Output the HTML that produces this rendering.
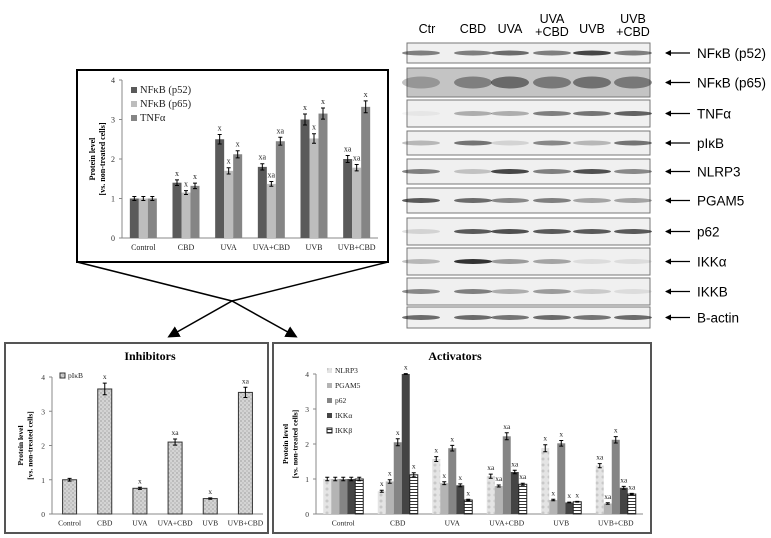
<!DOCTYPE html>
<html><head><meta charset="utf-8"><style>
body{margin:0;background:#fff;}
svg{display:block;font-family:"Liberation Serif",serif;}
.blbl{font-family:"Liberation Sans",sans-serif;}
</style></head><body>
<svg id="fig" width="771" height="538" viewBox="0 0 771 538">
<defs>
<pattern id="dots" width="4" height="4" patternUnits="userSpaceOnUse"><rect width="4" height="4" fill="#d4d4d4"/><rect width="2" height="2" fill="#bbb"/><rect x="2" y="2" width="2" height="2" fill="#c4c4c4"/></pattern>
<pattern id="dots2" width="6" height="6" patternUnits="userSpaceOnUse"><rect width="6" height="6" fill="#e4e4e4"/><circle cx="3" cy="3" r="1.5" fill="#c8c8c8"/></pattern>
<pattern id="hstripe" width="4" height="3" patternUnits="userSpaceOnUse"><rect width="4" height="3" fill="#fff"/><rect width="4" height="1" fill="#333"/></pattern>
<marker id="arr" markerWidth="8" markerHeight="8" refX="6" refY="4" orient="auto"><path d="M0,0 L8,4 L0,8 z" fill="#000"/></marker>
<marker id="arrs" markerWidth="6" markerHeight="6" refX="5" refY="3" orient="auto" markerUnits="userSpaceOnUse"><path d="M0,0 L6,3 L0,6 z" fill="#000"/></marker>
</defs>
<rect x="77" y="70" width="311" height="192" fill="#fff" stroke="#000" stroke-width="2"/>
<polyline points="77,262 232,301 295,336" fill="none" stroke="#000" stroke-width="1.5" marker-end="url(#arr)"/>
<polyline points="388,262 232,301 170,336" fill="none" stroke="#000" stroke-width="1.5" marker-end="url(#arr)"/>
<rect x="5" y="343" width="263" height="190" fill="#fff" stroke="#555" stroke-width="2"/>
<rect x="273" y="343" width="378" height="190" fill="#fff" stroke="#555" stroke-width="2"/>
<g id="top"></g><g id="inh"></g><g id="act"></g><g id="blot"></g>
</svg>
<script>
const categories=["Control","CBD","UVA","UVA+CBD","UVB","UVB+CBD"];
const topSeriesNames=["NF\u03baB (p52)","NF\u03baB (p65)","TNF\u03b1"];
const topP52=[1,1.4,2.5,1.8,3.0,2.0];
const topP65=[1,1.15,1.7,1.37,2.52,1.78];
const topTNF=[1,1.32,2.12,2.45,3.15,3.32];
const topP52Err=[0.05,0.07,0.12,0.08,0.14,0.09];
const topP65Err=[0.05,0.05,0.08,0.06,0.12,0.08];
const topTNFErr=[0.05,0.07,0.09,0.1,0.14,0.15];
const topP52Sig=["","x","x","xa","x","xa"];
const topP65Sig=["","x","x","xa","x","xa"];
const topTNFSig=["","x","x","xa","x","x"];
const inhValues=[1,3.65,0.75,2.1,0.45,3.55];
const inhErr=[0.04,0.17,0.03,0.09,0.02,0.15];
const inhSig=["","x","x","xa","x","xa"];
const actNames=["NLRP3","PGAM5","p62","IKK\u03b1","IKK\u03b2"];
const actNLRP3=[1,0.65,1.57,1.08,1.88,1.38];
const actPGAM5=[1,0.93,0.88,0.8,0.4,0.3];
const actP62=[1,2.05,1.88,2.22,2.02,2.12];
const actIKKa=[1,4,0.82,1.2,0.33,0.75];
const actIKKb=[1,1.12,0.4,0.85,0.35,0.57];
const actErr=[[0.05,0.03,0.07,0.06,0.1,0.06],[0.05,0.05,0.04,0.03,0.02,0.02],[0.05,0.1,0.08,0.1,0.08,0.09],[0.05,0.01,0.04,0.05,0.01,0.04],[0.05,0.06,0.02,0.03,0.01,0.02]];
const actSig=[["","x","x","xa","x","xa"],["","x","x","xa","x","xa"],["","x","x","xa","x","x"],["","x","x","xa","x","xa"],["","x","x","xa","x","xa"]];
const yTicks=[0,1,2,3,4];
const blotLanes=["Ctr","CBD","UVA","UVA\n+CBD","UVB","UVB\n+CBD"];
const blotProteins=["NF\u03baB (p52)","NF\u03baB (p65)","TNF\u03b1","pI\u03baB","NLRP3","PGAM5","p62","IKK\u03b1","IKKB","B-actin"];
const blotIntensity=[[0.6,0.6,0.7,0.6,0.9,0.6],[0.3,0.45,0.6,0.5,0.55,0.5],[0.05,0.35,0.35,0.6,0.65,0.75],[0.3,0.65,0.15,0.55,0.3,0.65],[0.6,0.25,0.9,0.6,0.85,0.55],[0.8,0.7,0.55,0.6,0.4,0.4],[0.15,0.8,0.85,0.8,0.8,0.8],[0.3,1,0.45,0.4,0.1,0.1],[0.55,0.6,0.35,0.45,0.2,0.1],[0.7,0.7,0.65,0.7,0.65,0.7]];
const NS="http://www.w3.org/2000/svg";
function mk(parent,tag,attrs,text){const e=document.createElementNS(NS,tag);for(const k in attrs)e.setAttribute(k,attrs[k]);if(text!==undefined)e.textContent=text;parent.appendChild(e);return e;}
function chart(g,cfg){
 const y=v=>cfg.y0-(cfg.y0-cfg.y4)*v/4;
 const gw=(cfg.x1-cfg.x0)/categories.length;
 const ax=mk(g,"line",{x1:cfg.x0,y1:cfg.y0,x2:cfg.x0,y2:cfg.y4,stroke:"#888"});
 
 
 const xl=mk(g,"line",{x1:cfg.x0,y1:cfg.y0,x2:cfg.x1,y2:cfg.y0,stroke:"#888"});
 
 
 yTicks.forEach(t=>{
  mk(g,"line",{x1:cfg.x0-3,y1:y(t),x2:cfg.x0,y2:y(t),stroke:"#888"});
  const tl=mk(g,"text",{x:cfg.x0-7,y:y(t)+3,"font-size":cfg.fs,"text-anchor":"end",fill:"#333"},t);
  
  
 });
 categories.forEach((c,i)=>{
  const cl=mk(g,"text",{x:cfg.x0+gw*(i+0.5),y:cfg.y0+cfg.fs+4,"font-size":cfg.fs,"text-anchor":"middle",fill:"#222"},c);
  
  
 });
 const n=cfg.series.length;
 cfg.series.forEach((s,si)=>{
  s.values.forEach((v,i)=>{
   const cx=cfg.x0+gw*(i+0.5);
   const bx=cx-n*cfg.bw/2+si*cfg.bw;
   const r=mk(g,"rect",{x:bx,y:y(v),width:cfg.bw,height:cfg.y0-y(v),fill:s.fill,stroke:s.stroke||"none","stroke-width":1});
   
   
   const e=s.err[i],m=bx+cfg.bw/2;
   mk(g,"path",{d:`M${m},${y(v+e)}V${y(v-e)}M${m-2},${y(v+e)}h4M${m-2},${y(v-e)}h4`,stroke:"#000","stroke-width":1,fill:"none"});
   if(s.sig[i]){const st=mk(g,"text",{x:m,y:y(v+e)-4,"font-size":cfg.fs,"text-anchor":"middle",fill:"#222"},s.sig[i]);
    
    }
  });
 });
 const yt=mk(g,"text",{transform:`translate(${cfg.ytx},${(cfg.y0+cfg.y4)/2}) rotate(-90)`,"font-size":cfg.fs,"font-weight":"bold","text-anchor":"middle"});
 
 
 mk(yt,"tspan",{x:0,dy:0},"Protein level");
 mk(yt,"tspan",{x:0,dy:cfg.fs+2},"[vs. non-treated cells]");
 cfg.series.forEach((s,si)=>{
  const ly=cfg.ly+si*cfg.lstep;
  const lr=mk(g,"rect",{x:cfg.lx,y:ly-cfg.lsz+1,width:cfg.lsz,height:cfg.lsz,fill:s.fill,stroke:s.stroke||"none"});
  
  
  const lt=mk(g,"text",{x:cfg.lx+cfg.lsz+3,y:ly+1,"font-size":cfg.lfs,fill:"#222"},s.name);
  
  
 });
 if(cfg.title){const tt=mk(g,"text",{x:cfg.tx,y:cfg.ty,"font-size":12,"font-weight":"bold","text-anchor":"middle"},cfg.title);
  
  }
}
chart(document.getElementById("top"),{x0:122,x1:378,y0:238,y4:80,bw:9,fs:8,ytx:95,lx:131,ly:92,lstep:14,lsz:6,lfs:10.5,
 series:[{key:"p52",name:topSeriesNames[0],values:topP52,err:topP52Err,sig:topP52Sig,fill:"#5a5a5a"},
 {key:"p65",name:topSeriesNames[1],values:topP65,err:topP65Err,sig:topP65Sig,fill:"#bdbdbd"},
 {key:"tnf",name:topSeriesNames[2],values:topTNF,err:topTNFErr,sig:topTNFSig,fill:"#858585"}]});
chart(document.getElementById("inh"),{x0:52,x1:263,y0:514,y4:377,bw:14,fs:7.5,ytx:23,lx:60,ly:377,lstep:12,lsz:5,lfs:7.5,title:"Inhibitors",tx:150,ty:360,
 series:[{key:"pikb",name:"pI\u03baB",values:inhValues,err:inhErr,sig:inhSig,fill:"url(#dots)",stroke:"#333"}]});
chart(document.getElementById("act"),{x0:316,x1:643,y0:514,y4:374,bw:8,fs:7.5,ytx:288,lx:327,ly:372,lstep:15,lsz:5,lfs:7.5,title:"Activators",tx:455,ty:360,
 series:[{key:"nlrp3",name:actNames[0],values:actNLRP3,err:actErr[0],sig:actSig[0],fill:"url(#dots2)"},
 {key:"pgam5",name:actNames[1],values:actPGAM5,err:actErr[1],sig:actSig[1],fill:"#b4b4b4"},
 {key:"p62",name:actNames[2],values:actP62,err:actErr[2],sig:actSig[2],fill:"#858585"},
 {key:"ikka",name:actNames[3],values:actIKKa,err:actErr[3],sig:actSig[3],fill:"#444"},
 {key:"ikkb",name:actNames[4],values:actIKKb,err:actErr[4],sig:actSig[4],fill:"url(#hstripe)",stroke:"#222"}]});
// blot
const bg=document.getElementById("blot");
const stripY=[43,68,100,131,159,188,218,248,278,307];
const stripH=[20,29,27,24,25,25,27,27,27,21];
const laneX=[427,473,510,552,592,633];
blotLanes.forEach((l,i)=>{
 const parts=l.split("\n");
 const t=mk(bg,"text",{x:laneX[i],y:parts.length>1?23:33,"font-size":12.5,"text-anchor":"middle",class:"blbl"});
 
 
 parts.forEach((p,k)=>mk(t,"tspan",{x:laneX[i],dy:k?13:0},p));
});
blotProteins.forEach((p,r)=>{
 const sy=stripY[r],sh=stripH[r];
 const s=mk(bg,"rect",{x:407,y:sy,width:243,height:sh,fill:r==1?"#c4c4c4":"#f0f0f0",stroke:"#777"});
 
 
 blotIntensity[r].forEach((v,i)=>{
  const b=mk(bg,"ellipse",{cx:laneX[i]-(i==0?6:0),cy:sy+sh/2,rx:19,ry:r==1?6:2.5,fill:"#111",opacity:v*0.85});
  
  
 });
 const a=mk(bg,"line",{x1:690,y1:sy+sh/2,x2:666,y2:sy+sh/2,stroke:"#000","stroke-width":1.3,"marker-end":"url(#arrs)"});
 
 
 const lt=mk(bg,"text",{x:697,y:sy+sh/2+5,"font-size":13.5,class:"blbl"},p);
 
 
});
</script>
</body></html>
